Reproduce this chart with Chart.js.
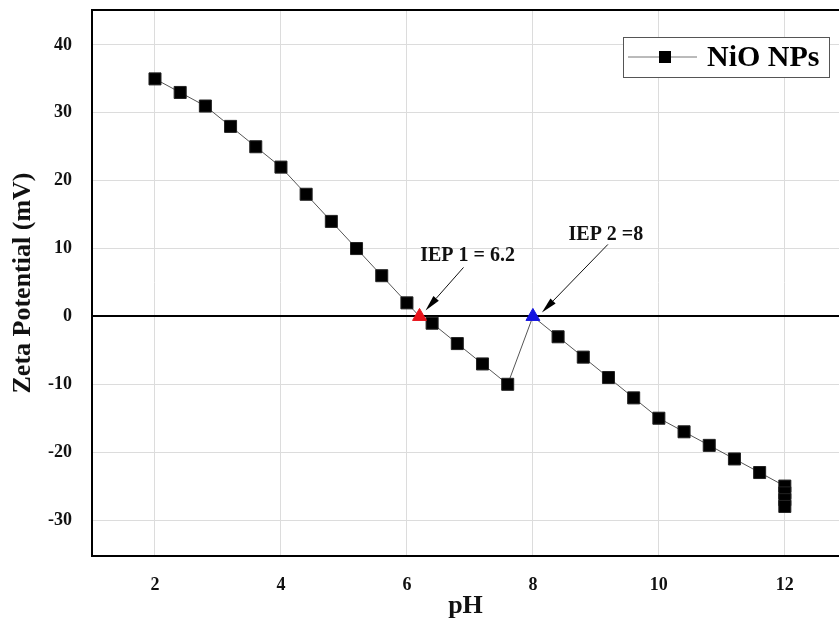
<!DOCTYPE html>
<html>
<head>
<meta charset="utf-8">
<script src="https://cdn.jsdelivr.net/npm/chart.js@4/dist/chart.umd.min.js"></script>
<style>
  html, body { margin: 0; padding: 0; background: #fff; }
  #wrap { width: 839px; height: 622px; }
</style>
</head>
<body>
<div id="wrap"><canvas id="c" width="839" height="622"></canvas></div>
<script>
// ---- data ----
const seriesLabel = 'NiO NPs';
const pH   = [2, 2.4, 2.8, 3.2, 3.6, 4, 4.4, 4.8, 5.2, 5.6, 6.0, 6.4, 6.8, 7.2, 7.6, 8.4, 8.8, 9.2, 9.6, 10, 10.4, 10.8, 11.2, 11.6, 12, 12, 12, 12];
const zeta = [35, 33, 31, 28, 25, 22, 18, 14, 10, 6, 2, -1, -4, -7, -10, -3, -6, -9, -12, -15, -17, -19, -21, -23, -25, -26, -27, -28];
const iepPH     = [6.2, 8];
const iepZeta   = [0, 0];
const iepLabels = ['IEP 1 = 6.2', 'IEP 2 =8'];
const xTicks = [2, 4, 6, 8, 10, 12];
const yTicks = [-30, -20, -10, 0, 10, 20, 30, 40];
const xTitle = 'pH';
const yTitle = 'Zeta Potential (mV)';

// ---- build datasets ----
const measured = pH.map((x, i) => ({ x: x, y: zeta[i] }));
const iepPts = iepPH.map((x, i) => ({ x: x, y: iepZeta[i], iep: i }));
const linePts = measured.concat(iepPts).sort((a, b) => a.x - b.x);

const FONT = "'Liberation Serif', 'Times New Roman', serif";
const iepColors = ['#e8141c', '#1414e0'];
// pixel offsets of annotation arrows (tip / tail / text centre) relative to the IEP point
const iepAnno = [
  { tip: [6, -6], tail: [44, -49], text: [48, -61] },
  { tip: [9, -4], tail: [75, -72], text: [73, -82] }
];

function noPad(s) { s.paddingLeft = 0; s.paddingRight = 0; s.paddingTop = 0; s.paddingBottom = 0; }

const annoPlugin = {
  id: 'anno',
  afterDatasetsDraw(chart) {
    const ctx = chart.ctx, xs = chart.scales.x, ys = chart.scales.y;
    ctx.save();
    iepPH.forEach((v, i) => {
      const px = xs.getPixelForValue(v), py = ys.getPixelForValue(iepZeta[i]);
      const a = iepAnno[i];
      const tx = px + a.tip[0], ty = py + a.tip[1];
      const sx = px + a.tail[0], sy = py + a.tail[1];
      const ang = Math.atan2(ty - sy, tx - sx);
      const L = 16, W = 3.6;
      const bx = tx - L * Math.cos(ang), by = ty - L * Math.sin(ang);
      ctx.strokeStyle = '#111'; ctx.lineWidth = 1;
      ctx.beginPath(); ctx.moveTo(sx, sy); ctx.lineTo(bx, by); ctx.stroke();
      ctx.fillStyle = '#000';
      ctx.beginPath();
      ctx.moveTo(tx, ty);
      ctx.lineTo(bx + W * Math.sin(ang), by - W * Math.cos(ang));
      ctx.lineTo(bx - W * Math.sin(ang), by + W * Math.cos(ang));
      ctx.closePath(); ctx.fill();
      ctx.font = 'bold 20px ' + FONT;
      ctx.textAlign = 'center'; ctx.textBaseline = 'middle';
      ctx.fillStyle = '#111';
      ctx.fillText(iepLabels[i], px + a.text[0], py + a.text[1]);
    });
    // legend box
    const ca = chart.chartArea;
    const bw = 206, bh = 40;
    const lx = ca.right - 10 - bw, ly = ca.top + 27;
    ctx.fillStyle = '#fff';
    ctx.fillRect(lx, ly, bw, bh);
    ctx.strokeStyle = '#555'; ctx.lineWidth = 1;
    ctx.strokeRect(lx + 0.5, ly + 0.5, bw, bh);
    const my = ly + bh / 2;
    ctx.strokeStyle = '#777'; ctx.lineWidth = 1;
    ctx.beginPath(); ctx.moveTo(lx + 5, my); ctx.lineTo(lx + 74, my); ctx.stroke();
    ctx.fillStyle = '#000';
    ctx.fillRect(lx + 36, my - 6, 12, 12);
    ctx.font = 'bold 30px ' + FONT;
    ctx.textAlign = 'left'; ctx.textBaseline = 'middle';
    ctx.fillText(chart.data.datasets[0].label, lx + 84, my + 1);
    ctx.restore();
  }
};

new Chart(document.getElementById('c'), {
  type: 'scatter',
  data: {
    datasets: [
      {
        label: seriesLabel,
        data: linePts,
        showLine: true,
        borderColor: '#555',
        borderWidth: 1,
        pointStyle: 'rect',
        pointRadius: ctx => (ctx.raw && ctx.raw.iep != null) ? 0 : 8.5,
        pointHoverRadius: ctx => (ctx.raw && ctx.raw.iep != null) ? 0 : 8.5,
        pointBackgroundColor: '#000',
        pointBorderColor: '#222',
        pointBorderWidth: 1,
        order: 2
      },
      {
        label: 'IEP',
        data: iepPts,
        showLine: false,
        pointStyle: 'triangle',
        pointRadius: 8,
        pointBackgroundColor: ctx => iepColors[ctx.dataIndex],
        pointBorderColor: ctx => iepColors[ctx.dataIndex],
        pointBorderWidth: 1,
        order: 1
      }
    ]
  },
  options: {
    responsive: false,
    animation: false,
    layout: { padding: 0, autoPadding: false },
    plugins: { legend: { display: false }, tooltip: { enabled: false } },
    scales: {
      x: {
        type: 'linear', position: 'bottom',
        min: 1, max: 12.86,
        afterBuildTicks: s => { s.ticks = xTicks.map(v => ({ value: v })); },
        afterFit: s => { s.height = 66; noPad(s); },
        grid: { color: '#dcdcdc', lineWidth: 1, drawTicks: false },
        border: { display: true, color: '#000', width: 2 },
        ticks: { color: '#111', font: { family: FONT, size: 18, weight: 'bold' }, padding: 19 },
        title: { display: true, text: xTitle, color: '#111', font: { family: FONT, size: 26, weight: 'bold' }, padding: { top: 0, bottom: 0 } }
      },
      x2: {
        type: 'linear', position: 'top',
        min: 1, max: 12.86,
        afterFit: s => { s.height = 10; noPad(s); },
        grid: { display: false, drawTicks: false },
        border: { display: true, color: '#000', width: 2 },
        ticks: { display: false }
      },
      y: {
        type: 'linear', position: 'left',
        min: -35.3, max: 45.15,
        afterBuildTicks: s => { s.ticks = yTicks.map(v => ({ value: v })); },
        afterFit: s => { s.width = 92; noPad(s); },
        grid: {
          color: ctx => (ctx.tick && ctx.tick.value === 0) ? '#000' : '#dcdcdc',
          lineWidth: ctx => (ctx.tick && ctx.tick.value === 0) ? 2 : 1,
          drawTicks: false
        },
        border: { display: true, color: '#000', width: 2 },
        ticks: { color: '#111', font: { family: FONT, size: 18, weight: 'bold' }, padding: 20 },
        title: { display: true, text: yTitle, color: '#111', font: { family: FONT, size: 26, weight: 'bold' }, padding: { top: 8, bottom: 0 } }
      }
    }
  },
  plugins: [annoPlugin]
});
</script>
</body>
</html>
